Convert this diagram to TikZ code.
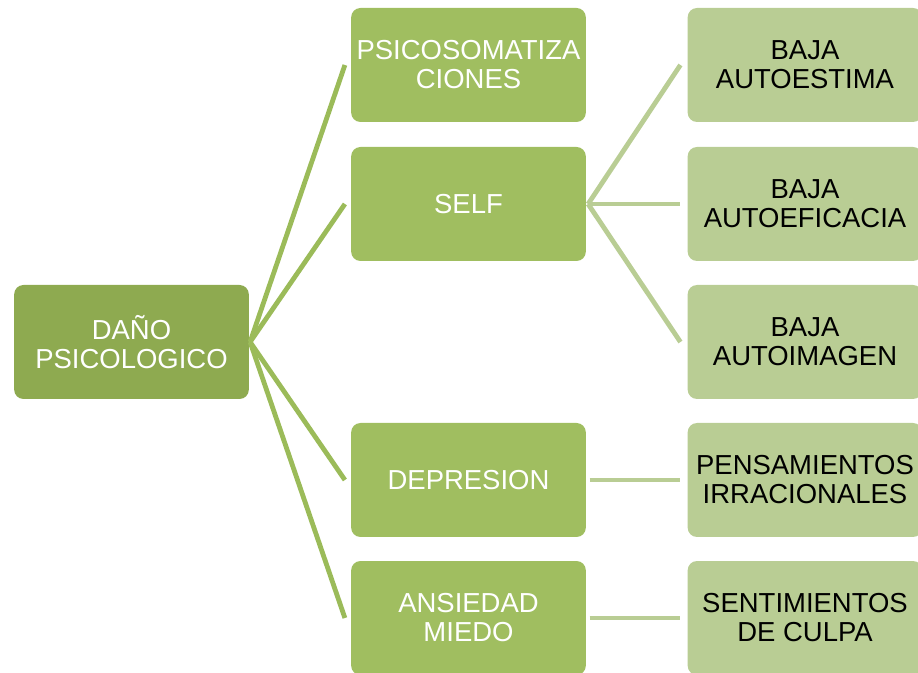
\documentclass[tikz,border=0pt]{standalone}
\usepackage{fontspec}
\setmainfont{Liberation Sans}
\definecolor{rootgreen}{HTML}{8EAA50}
\definecolor{midgreen}{HTML}{A0BE60}
\definecolor{leafgreen}{HTML}{B9CD94}
\definecolor{linkgreen}{HTML}{9BBB59}
\begin{document}
\begin{tikzpicture}[x=0.75pt,y=-0.75pt,
  box/.style={rounded corners=7pt,minimum width=176pt,minimum height=85.5pt,
    inner sep=0pt,align=center,font=\fontsize{20.6}{21.8}\selectfont},
  rootbox/.style={box,fill=rootgreen,text=white},
  midbox/.style={box,fill=midgreen,text=white},
  leafbox/.style={box,fill=leafgreen,text=black},
  trunk/.style={draw=linkgreen,line width=3.6pt},
  twig/.style={draw=leafgreen,line width=3.6pt}]
\useasboundingbox (0,0) rectangle (918,673);
\clip (0,0) rectangle (918,673);
% first level
\node[rootbox] (root) at (131.5,342) {DAÑO\\PSICOLOGICO};
% second level
\node[midbox] (psico) at (468.5,65)  {PSICOSOMATIZA\\CIONES};
\node[midbox] (self)  at (468.5,204) {SELF};
\node[midbox] (dep)   at (468.5,480) {DEPRESION};
\node[midbox] (ans)   at (468.5,618) {ANSIEDAD\\MIEDO};
% third level
\node[leafbox] (estima)   at (805,65)  {BAJA\\AUTOESTIMA};
\node[leafbox] (eficacia) at (805,204) {BAJA\\AUTOEFICACIA};
\node[leafbox] (imagen)   at (805,342) {BAJA\\AUTOIMAGEN};
\node[leafbox] (pens)     at (805,480) {PENSAMIENTOS\\IRRACIONALES};
\node[leafbox] (sent)     at (805,618) {SENTIMIENTOS\\DE CULPA};
% links from the root
\foreach \t in {psico,self,dep,ans}
  \draw[trunk] ([xshift=0.75pt]root.east) -- ([xshift=-4.5pt]\t.west);
% links from SELF
\foreach \t in {estima,eficacia,imagen}
  \draw[twig] ([xshift=1.5pt]self.east) -- ([xshift=-5.25pt]\t.west);
% single links
\draw[twig] ([xshift=2.6pt]dep.east) -- ([xshift=-5.25pt]pens.west);
\draw[twig] ([xshift=2.6pt]ans.east) -- ([xshift=-5.25pt]sent.west);
\end{tikzpicture}
\end{document}
